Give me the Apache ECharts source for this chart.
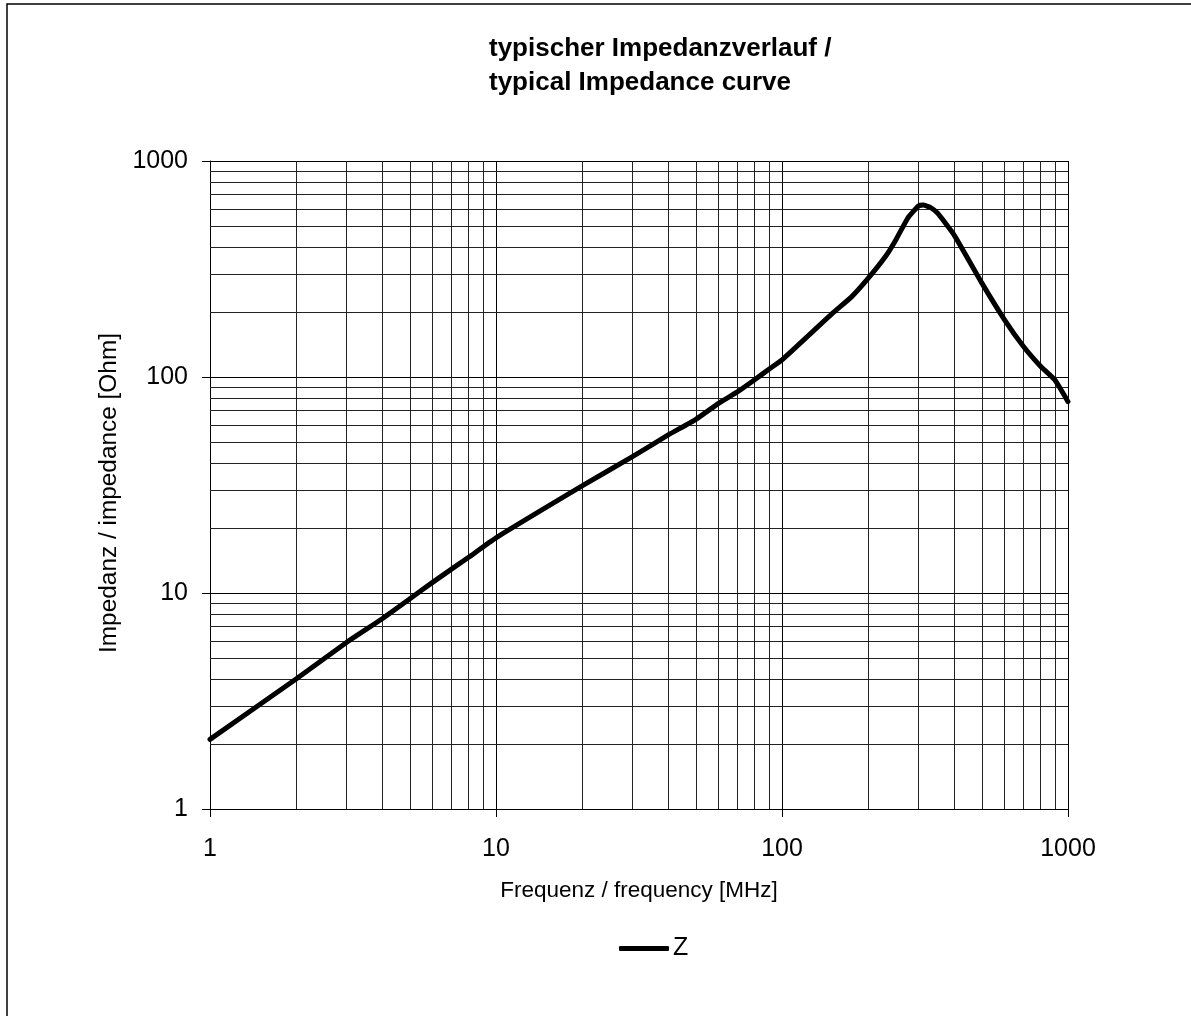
<!DOCTYPE html>
<html>
<head>
<meta charset="utf-8">
<script src="https://cdn.jsdelivr.net/npm/echarts@6/dist/echarts.min.js"></script>
<style>
html,body{margin:0;padding:0;background:#fff;}
#c{width:1191px;height:1016px;}
</style>
</head>
<body>
<div id="c"></div>
<script>
// Frequency [MHz]
const freq = [1, 2, 3, 4, 5, 6, 8, 10, 20, 30, 40, 50, 60, 70, 80, 90, 100, 150, 175, 200, 230, 250, 275, 300, 312, 330, 350, 400, 500, 600, 700, 800, 900, 1000];
// Impedance Z [Ohm]
const impedance = [2.1, 4.0, 5.9, 7.6, 9.4, 11.2, 14.6, 18, 31.3, 42.8, 53.9, 63.7, 75.5, 85.5, 96.9, 108.6, 120, 197, 235, 286, 361, 431, 543, 619, 625, 610, 573, 454, 272, 184, 138, 112.5, 96.9, 76.9];
// Major tick labels
const xTicks = [1, 10, 100, 1000];
const yTicks = [1, 10, 100, 1000];
// Minor grid values
const minorValues = [2, 3, 4, 5, 6, 7, 8, 9, 20, 30, 40, 50, 60, 70, 80, 90, 200, 300, 400, 500, 600, 700, 800, 900];

const FONT = '"Liberation Sans", Arial, sans-serif';
const chart = echarts.init(document.getElementById('c'), null, {renderer: 'canvas'});

const seriesData = freq.map((f, i) => [f, impedance[i]]);
const minorLineStyle = {color: '#222', width: 1, type: 'solid'};

function fmt(v) { return String(Math.round(v)); }

chart.setOption({
  animation: false,
  backgroundColor: '#fff',
  graphic: [{
    type: 'rect',
    shape: {x: 7, y: 4, width: 1400, height: 1200},
    style: {fill: 'none', stroke: '#000', lineWidth: 1.5},
    silent: true, z: 100
  }],
  title: {
    text: 'typischer Impedanzverlauf /\ntypical Impedance curve',
    left: 489, top: 32, padding: 0,
    textStyle: {fontFamily: FONT, fontSize: 26, fontWeight: 'bold', color: '#000', lineHeight: 34}
  },
  legend: {
    data: ['Z'],
    left: 614,
    top: 931,
    icon: 'roundRect',
    itemWidth: 50,
    itemHeight: 5,
    itemGap: 5,
    textStyle: {fontFamily: FONT, fontSize: 25, color: '#000', padding: [0, 0, 0, -1]}
  },
  grid: {left: 210, top: 161, right: 123, bottom: 207, containLabel: false},
  xAxis: {
    type: 'log', logBase: 10, min: 1, max: 1000, splitNumber: 3,
    name: 'Frequenz / frequency [MHz]',
    nameLocation: 'middle', nameGap: 70,
    nameTextStyle: {fontFamily: FONT, fontSize: 22.5, color: '#000'},
    axisLine: {show: true, lineStyle: {color: '#000', width: 1}},
    axisTick: {show: true, inside: false, length: 8, lineStyle: {color: '#000'}},
    axisLabel: {fontFamily: FONT, fontSize: 25, color: '#000', margin: 28, formatter: fmt},
    splitLine: {show: true, lineStyle: {color: '#000', width: 1}}
  },
  yAxis: {
    type: 'log', logBase: 10, min: 1, max: 1000, splitNumber: 3,
    name: 'Impedanz / impedance [Ohm]',
    nameLocation: 'middle', nameGap: 87,
    nameTextStyle: {fontFamily: FONT, fontSize: 24.4, color: '#000', padding: [0, 16, 0, 0]},
    axisLine: {show: true, lineStyle: {color: '#000', width: 1}},
    axisTick: {show: true, inside: false, length: 8, lineStyle: {color: '#000'}},
    axisLabel: {fontFamily: FONT, fontSize: 25, color: '#000', margin: 22, formatter: fmt},
    splitLine: {show: true, lineStyle: {color: '#000', width: 1}}
  },
  series: [
    {
      name: 'minorGrid',
      type: 'line',
      data: [],
      silent: true,
      markLine: {
        silent: true, symbol: ['none', 'none'], animation: false,
        label: {show: false},
        lineStyle: minorLineStyle,
        emphasis: {disabled: true},
        data: minorValues.map(v => ({xAxis: v})).concat(minorValues.map(v => ({yAxis: v})))
      },
      z: 1
    },
    {
      name: 'Z',
      type: 'line',
      data: seriesData,
      smooth: 0.15,
      symbol: 'none',
      lineStyle: {color: '#000', width: 5, cap: 'round', join: 'round'},
      itemStyle: {color: '#000'},
      z: 10
    }
  ]
});
</script>
</body>
</html>
